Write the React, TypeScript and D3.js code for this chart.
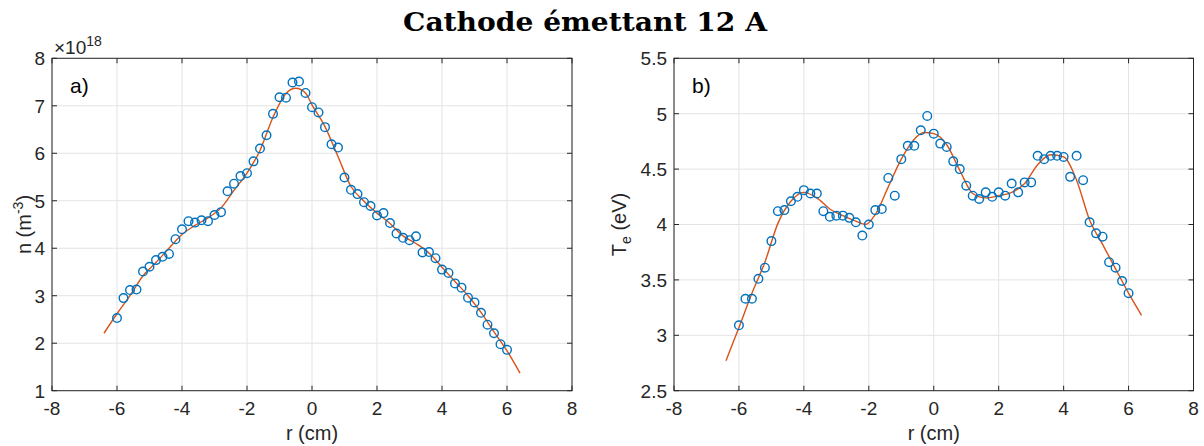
import React from "react";
import * as d3 from "d3";

// ---------- Data ----------
const rPoints = [
  -6.0, -5.8, -5.6, -5.4, -5.2, -5.0, -4.8, -4.6, -4.4, -4.2, -4.0, -3.8, -3.6, -3.4, -3.2, -3.0,
  -2.8, -2.6, -2.4, -2.2, -2.0, -1.8, -1.6, -1.4, -1.2, -1.0, -0.8, -0.6, -0.4, -0.2, 0.0,
  0.2, 0.4, 0.6, 0.8, 1.0, 1.2, 1.4, 1.6, 1.8, 2.0, 2.2, 2.4, 2.6, 2.8, 3.0,
  3.2, 3.4, 3.6, 3.8, 4.0, 4.2, 4.4, 4.6, 4.8, 5.0, 5.2, 5.4, 5.6, 5.8, 6.0,
];

// density n (x1e18 m^-3)
const nValues = [
  2.53, 2.95, 3.12, 3.13, 3.51, 3.61, 3.75, 3.82, 3.88, 4.19, 4.40, 4.57, 4.54, 4.59, 4.57, 4.70,
  4.76, 5.20, 5.36, 5.52, 5.58, 5.83, 6.10, 6.38, 6.83, 7.18, 7.17, 7.49, 7.51, 7.27, 6.97,
  6.86, 6.55, 6.19, 6.12, 5.49, 5.23, 5.14, 4.97, 4.89, 4.69, 4.74, 4.53, 4.31, 4.22, 4.17,
  4.25, 3.91, 3.92, 3.79, 3.55, 3.48, 3.26, 3.17, 2.96, 2.86, 2.64, 2.39, 2.21, 1.98, 1.86,
];

// electron temperature Te (eV)
const teValues = [
  3.09, 3.33, 3.33, 3.51, 3.61, 3.85, 4.12, 4.13, 4.21, 4.25, 4.31, 4.28, 4.28, 4.12, 4.07, 4.08,
  4.08, 4.06, 4.02, 3.90, 4.00, 4.13, 4.14, 4.42, 4.26, 4.59, 4.71, 4.71, 4.85, 4.98, 4.82,
  4.73, 4.70, 4.57, 4.50, 4.35, 4.26, 4.23, 4.29, 4.25, 4.29, 4.26, 4.37, 4.29, 4.38, 4.38,
  4.62, 4.59, 4.62, 4.62, 4.61, 4.43, 4.62, 4.40, 4.02, 3.92, 3.89, 3.66, 3.61, 3.49, 3.38,
];

// fitted curves
const nFitR = [
  -6.4, -6.0, -5.6, -5.2, -4.8, -4.4, -4.0, -3.6, -3.2, -2.8, -2.4, -2.0, -1.6, -1.2, -0.8, -0.5,
  -0.2, 0.0, 0.4, 0.8, 1.2, 1.6, 2.0, 2.4, 2.8, 3.2, 3.6, 4.0, 4.4, 4.8, 5.2, 5.6, 6.0, 6.4,
];
const nFitV = [
  2.21, 2.62, 3.0, 3.42, 3.7, 4.0, 4.29, 4.48, 4.64, 4.85, 5.22, 5.58, 6.06, 6.76, 7.26, 7.37,
  7.27, 7.02, 6.56, 5.93, 5.3, 4.99, 4.74, 4.52, 4.26, 4.1, 3.9, 3.6, 3.3, 3.0, 2.65, 2.24, 1.84, 1.37,
];

const teFitR = [
  -6.4, -6.0, -5.6, -5.2, -4.8, -4.4, -4.0, -3.6, -3.2, -2.8, -2.4, -2.1, -1.8, -1.4, -1.0, -0.6,
  -0.3, 0.0, 0.4, 0.8, 1.2, 1.6, 2.0, 2.4, 2.8, 3.2, 3.6, 4.0, 4.4, 4.8, 5.2, 5.6, 6.0, 6.4,
];
const teFitV = [
  2.77, 3.07, 3.38, 3.66, 4.01, 4.21, 4.29, 4.24, 4.14, 4.08, 4.03, 4.0, 4.09, 4.34, 4.59, 4.77,
  4.83, 4.82, 4.72, 4.49, 4.28, 4.24, 4.26, 4.29, 4.37, 4.54, 4.63, 4.61, 4.4, 4.04, 3.82, 3.6, 3.38, 3.18,
];

const xTicks = [-8, -6, -4, -2, 0, 2, 4, 6, 8];
const nTicks = [1, 2, 3, 4, 5, 6, 7, 8];
const teTicks = [2.5, 3, 3.5, 4, 4.5, 5, 5.5];

const TITLE = "Cathode émettant 12 A";

// ---------- Styles ----------
const AXIS = "#262626";
const GRID = "#e3e3e3";
const BLUE = "#0072BD";
const ORANGE = "#D95319";
const SANS = "'Liberation Sans', Arial, Helvetica, sans-serif";

const TOP = 58.3;
const BOTTOM = 390.7;

type PanelProps = {
  left: number;
  right: number;
  yDomain: [number, number];
  yTicks: number[];
  values: number[];
  fitR: number[];
  fitV: number[];
  tag: string;
  yLabel: React.ReactNode;
  yLabelX: number;
  extra?: React.ReactNode;
};

function Panel(p: PanelProps) {
  const x = d3.scaleLinear().domain([-8, 8]).range([p.left, p.right]);
  const y = d3.scaleLinear().domain(p.yDomain).range([BOTTOM, TOP]);
  const line = d3
    .line<number>()
    .x((_, i) => x(p.fitR[i]))
    .y((v) => y(v))
    .curve(d3.curveMonotoneX);
  const tl = 5;
  const fmt = (v: number) => String(v);
  return (
    <g>
      {xTicks.map((t) => (
        <line key={"gx" + t} x1={x(t)} x2={x(t)} y1={TOP} y2={BOTTOM} stroke={GRID} strokeWidth={1} />
      ))}
      {p.yTicks.map((t) => (
        <line key={"gy" + t} x1={p.left} x2={p.right} y1={y(t)} y2={y(t)} stroke={GRID} strokeWidth={1} />
      ))}
      <path d={line(p.fitV) || ""} fill="none" stroke={ORANGE} strokeWidth={1.4} />
      {p.values.map((v, i) => (
        <circle key={"m" + i} cx={x(rPoints[i])} cy={y(v)} r={4.3} fill="none" stroke={BLUE} strokeWidth={1.4} />
      ))}
      <rect x={p.left} y={TOP} width={p.right - p.left} height={BOTTOM - TOP} fill="none" stroke={AXIS} strokeWidth={1} />
      {xTicks.map((t) => (
        <g key={"tx" + t}>
          <line x1={x(t)} x2={x(t)} y1={BOTTOM} y2={BOTTOM - tl} stroke={AXIS} />
          <line x1={x(t)} x2={x(t)} y1={TOP} y2={TOP + tl} stroke={AXIS} />
          <text x={x(t)} y={415} textAnchor="middle" fontFamily={SANS} fontSize={19} fill={AXIS}>
            {fmt(t)}
          </text>
        </g>
      ))}
      {p.yTicks.map((t) => (
        <g key={"ty" + t}>
          <line x1={p.left} x2={p.left + tl} y1={y(t)} y2={y(t)} stroke={AXIS} />
          <line x1={p.right} x2={p.right - tl} y1={y(t)} y2={y(t)} stroke={AXIS} />
          <text x={p.left - 7} y={y(t)} dy="0.36em" textAnchor="end" fontFamily={SANS} fontSize={19} fill={AXIS}>
            {fmt(t)}
          </text>
        </g>
      ))}
      <text x={(p.left + p.right) / 2} y={440} textAnchor="middle" fontFamily={SANS} fontSize={20} fill={AXIS}>
        r (cm)
      </text>
      <text
        transform={`translate(${p.yLabelX},${(TOP + BOTTOM) / 2}) rotate(-90)`}
        textAnchor="middle"
        fontFamily={SANS}
        fontSize={20}
        fill={AXIS}
      >
        {p.yLabel}
      </text>
      <text x={p.left + 18} y={93} fontFamily={SANS} fontSize={21} fill="#000">
        {p.tag}
      </text>
      {p.extra}
    </g>
  );
}

export default function App() {
  return (
    <svg
      width={1204}
      height={446}
      style={{ position: "absolute", left: 0, top: 0, background: "#fff" }}
    >
      <rect x={0} y={0} width={1204} height={446} fill="#fff" />
      <text
        x={585}
        y={31}
        textAnchor="middle"
        fontFamily="'DejaVu Serif', 'Liberation Serif', serif"
        fontWeight="bold"
        fontSize={26}
        textLength={364}
        lengthAdjust="spacingAndGlyphs"
        fill="#000"
      >
        {TITLE}
      </text>
      <Panel
        left={52}
        right={572}
        yDomain={[1, 8]}
        yTicks={nTicks}
        values={nValues}
        fitR={nFitR}
        fitV={nFitV}
        tag="a)"
        yLabelX={31}
        yLabel={
          <>
            n (m
            <tspan fontSize={14} dy={-8}>-3</tspan>
            <tspan dy={8}>)</tspan>
          </>
        }
        extra={
          <text x={54} y={54} fontFamily={SANS} fontSize={19} fill={AXIS}>
            ×10
            <tspan fontSize={14} dy={-8}>18</tspan>
          </text>
        }
      />
      <Panel
        left={674}
        right={1193.5}
        yDomain={[2.5, 5.5]}
        yTicks={teTicks}
        values={teValues}
        fitR={teFitR}
        fitV={teFitV}
        tag="b)"
        yLabelX={626}
        yLabel={
          <>
            T
            <tspan fontSize={14} dy={5}>e</tspan>
            <tspan dy={-5}> (eV)</tspan>
          </>
        }
      />
    </svg>
  );
}
